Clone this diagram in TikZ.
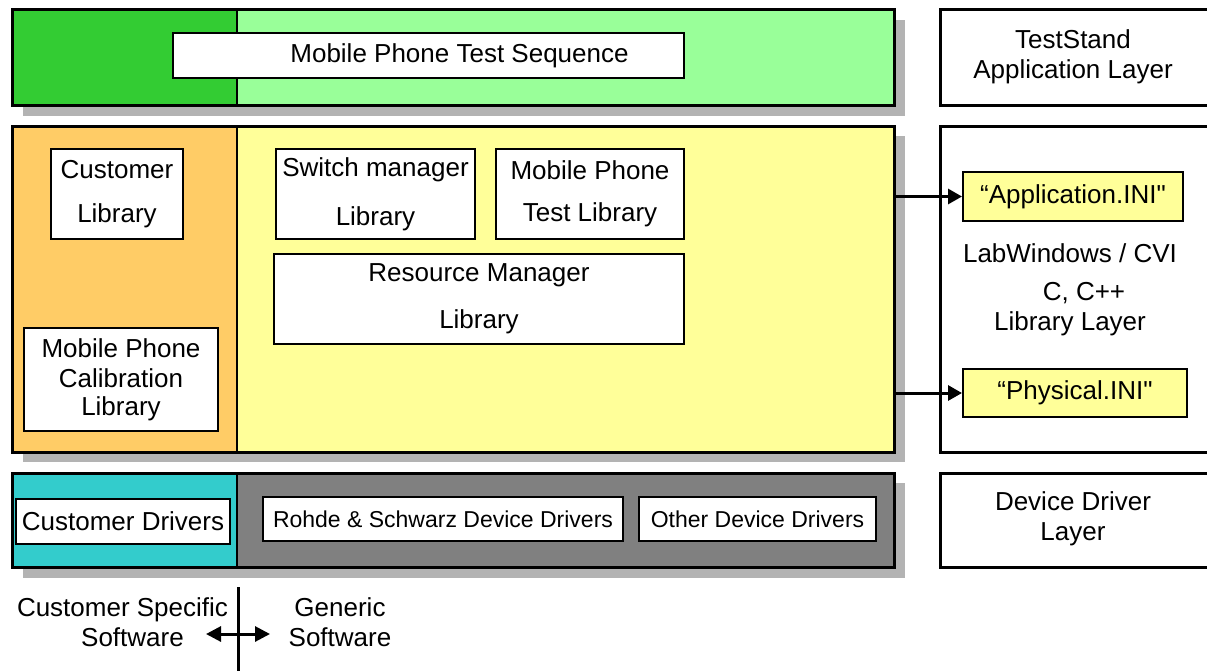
\documentclass[tikz,border=0pt]{standalone}
\usepackage{fontspec}
\setmainfont{Liberation Sans}[Ligatures=TeXOff]
\usetikzlibrary{arrows.meta}
\definecolor{leafgreen}{HTML}{33CC33}
\definecolor{mintgreen}{HTML}{99FF99}
\definecolor{apricot}{HTML}{FFCC66}
\definecolor{cream}{HTML}{FFFF99}
\definecolor{tealblue}{HTML}{33CCCC}
\definecolor{slategray}{HTML}{808080}
\definecolor{dropshade}{HTML}{B3B3B3}
\begin{document}
\begin{tikzpicture}[x=1pt,y=-1pt,
  font=\fontsize{26}{30}\selectfont,
  frame/.style={draw, line width=3pt, inner sep=0pt, anchor=north west},
  panel/.style={draw, line width=2pt, fill=white, inner sep=0pt, anchor=north west, align=center},
  smallpanel/.style={panel, font=\fontsize{23}{27}\selectfont},
  inifile/.style={panel, fill=cream},
  caption/.style={align=center, inner sep=0pt},
  feed/.style={line width=3pt, -{Triangle[length=14pt,width=15pt]}},
  both/.style={line width=3pt, {Triangle[length=15pt,width=15pt]}-{Triangle[length=15pt,width=15pt]}}
]
\useasboundingbox (0,0) rectangle (1207,670);
\clip (0,0) rectangle (1207,670);

% drop shadows of the three layers
\fill[dropshade] (23,20) rectangle (905,116);
\fill[dropshade] (23,136) rectangle (905,462);
\fill[dropshade] (23,483) rectangle (905,578);

% layer fills: customer part on the left, generic part on the right
\fill[leafgreen] (11,8) rectangle (237,104);
\fill[mintgreen] (237,8) rectangle (893,104);
\fill[apricot] (11,125) rectangle (237,451);
\fill[cream] (237,125) rectangle (893,451);
\fill[tealblue] (11,472) rectangle (237,566);
\fill[slategray] (237,472) rectangle (893,566);

% split lines between the two parts
\draw[line width=2.5pt] (237,8) -- (237,104);
\draw[line width=2.5pt] (237,125) -- (237,451);
\draw[line width=2.5pt] (237,472) -- (237,568);

% layer frames
\node[frame, minimum width=882, minimum height=96] (seqlayer) at (11,8) {};
\node[frame, minimum width=882, minimum height=326] (liblayer) at (11,125) {};
\node[frame, minimum width=882, minimum height=94] (drvlayer) at (11,472) {};

% TestStand layer
\node[panel, minimum width=511, minimum height=45] (seq) at (172,32) {\hspace*{62pt}Mobile Phone Test Sequence};

% library layer
\node[panel, minimum width=132, minimum height=90] (custlib) at (50,148) {Customer\\[14pt]Library};
\node[panel, minimum width=194, minimum height=103] (calib) at (23,327) {Mobile Phone\\Calibration\\[-2pt]Library};
\node[panel, minimum width=199, minimum height=90] (switchlib) at (275,148) {Switch manager\\[19pt]Library};
\node[panel, minimum width=188, minimum height=90] (testlib) at (495,148) {Mobile Phone\\[12pt]Test Library};
\node[panel, minimum width=410, minimum height=90] (reslib) at (273,253) {Resource Manager\\[17pt]Library};

% driver layer
\node[panel, minimum width=214, minimum height=45] (custdrv) at (15,498) {Customer Drivers};
\node[smallpanel, minimum width=360, minimum height=44] (rsdrv) at (262,496) {Rohde \& Schwarz Device Drivers};
\node[smallpanel, minimum width=237, minimum height=44] (otherdrv) at (638,496) {Other Device Drivers};

% layer names on the right
\node[frame, minimum width=300, minimum height=96] (appbox) at (939,8) {};
\node[frame, minimum width=300, minimum height=326] (cvibox) at (939,125) {};
\node[frame, minimum width=300, minimum height=94] (devbox) at (939,472) {};
\node[caption] (apptext) at (1073,57) {TestStand\\Application Layer};
\node[caption] (cvitext) at (1070,290) {LabWindows / CVI\\[8pt]\hspace*{28pt}C, C++\\Library Layer};
\node[caption] (devtext) at (1073,519) {Device Driver\\Layer};

% configuration files
\node[inifile, minimum width=220, minimum height=49] (appini) at (962,171) {“Application.INI"};
\node[inifile, minimum width=224, minimum height=48] (physini) at (962,368) {“Physical.INI"};
\draw[feed] (liblayer.east |- appini.west) -- (appini.west);
\draw[feed] (liblayer.east |- physini.west) -- (physini.west);

% customer specific / generic split
\coordinate (splittop) at (238,587);
\coordinate (splitbot) at (238,672);
\coordinate (toleft) at (206,634);
\coordinate (toright) at (270,634);
\draw[line width=3pt] (splittop) -- (splitbot);
\draw[both] (toleft) -- (toright);
\node[caption] (custsw) at (122.5,622) {Customer Specific\\\hspace*{20pt}Software};
\node[caption] (gensw) at (340,622) {Generic\\Software};
\end{tikzpicture}
\end{document}
